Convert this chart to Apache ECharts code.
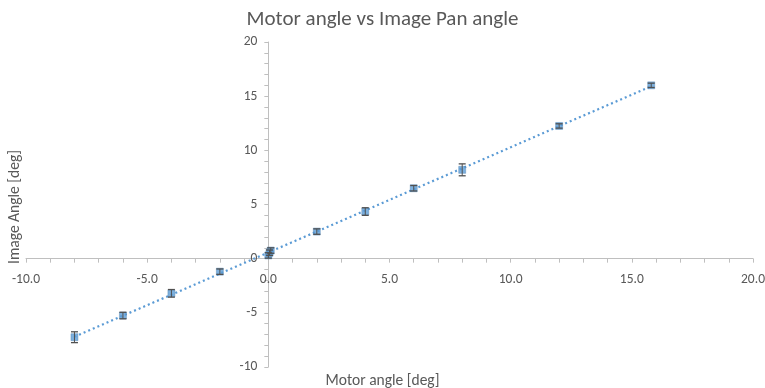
<!DOCTYPE html>
<html><head><meta charset="utf-8">
<script src="https://cdn.jsdelivr.net/npm/echarts@6/dist/echarts.min.js"></script>
<style>html,body{margin:0;padding:0;background:#fff}#c{width:765px;height:388px}</style>
</head><body><div id="c"></div>
<script>
const motorAngle = [-8, -6, -4, -2, 0, 0.05, 0.1, 2, 4, 6, 8, 12, 15.8];
const imageAngle = [-7.25, -5.25, -3.2, -1.2, 0.3, 0.55, 0.75, 2.5, 4.35, 6.5, 8.2, 12.25, 16.0];
const errorSize = [0.5, 0.3, 0.35, 0.25, 0.25, 0.25, 0.25, 0.25, 0.35, 0.25, 0.55, 0.2, 0.2];
const xTicks = [-10, -5, 0, 5, 10, 15, 20];
const yTicks = [-10, -5, 0, 5, 10, 15, 20];

const pts = motorAngle.map((x, i) => [x, imageAngle[i]]);
const errs = motorAngle.map((x, i) => [x, imageAngle[i] - errorSize[i], imageAngle[i] + errorSize[i]]);
// least squares trendline
const n = pts.length;
let sx = 0, sy = 0, sxx = 0, sxy = 0;
pts.forEach(([x, y]) => { sx += x; sy += y; sxx += x * x; sxy += x * y; });
const slope = (n * sxy - sx * sy) / (n * sxx - sx * sx);
const icpt = (sy - slope * sx) / n;
const xmin = Math.min(...motorAngle), xmax = Math.max(...motorAngle);
const trend = [[xmin, slope * xmin + icpt], [xmax, slope * xmax + icpt]];

const W = 765, H = 388;
const G = {left: 26, right: 12, top: 42, bottom: 21};
const gw = W - G.left - G.right, gh = H - G.top - G.bottom;
const xMin = xTicks[0], xMax = xTicks[xTicks.length - 1];
const yMin = yTicks[0], yMax = yTicks[yTicks.length - 1];
// place axes where the other axis is zero
const xOffset = -gh * (0 - yMin) / (yMax - yMin);
const yOffset = -gw * (0 - xMin) / (xMax - xMin);

const font = 'Carlito, Lato, "Open Sans", sans-serif';
const axisColor = '#BFBFBF';
const textColor = '#595959';
const chart = echarts.init(document.getElementById('c'), null, {renderer: 'canvas'});
chart.setOption({
  animation: false,
  textStyle: {fontFamily: font},
  title: {text: 'Motor angle vs Image Pan angle', left: 'center', top: 4,
    textStyle: {fontFamily: font, fontSize: 21, fontWeight: 'normal', color: textColor}},
  grid: Object.assign({containLabel: false, outerBoundsMode: 'none'}, G),
  xAxis: {type: 'value', min: xMin, max: xMax, interval: 5, position: 'bottom', offset: xOffset,
    axisLine: {onZero: false, lineStyle: {color: axisColor, width: 1}},
    axisTick: {show: true, inside: false, length: 4, lineStyle: {color: axisColor}},
    minorTick: {show: true, splitNumber: 5, length: 4, lineStyle: {color: axisColor}},
    splitLine: {show: false},
    axisLabel: {color: textColor, fontSize: 13.5, fontFamily: font, margin: 14, hideOverlap: false,
      formatter: v => v.toFixed(1)}},
  yAxis: {type: 'value', min: yMin, max: yMax, interval: 5, position: 'left', offset: yOffset,
    axisLine: {onZero: false, lineStyle: {color: axisColor, width: 1}},
    axisTick: {show: true, length: 4, lineStyle: {color: axisColor}},
    minorTick: {show: true, splitNumber: 5, length: 4, lineStyle: {color: axisColor}},
    splitLine: {show: false},
    axisLabel: {color: textColor, fontSize: 13.5, fontFamily: font, margin: 11, hideOverlap: false}},
  graphic: [
    {type: 'text', left: 'center', top: 373, style: {text: 'Motor angle [deg]', font: '15.5px ' + font, fill: textColor}},
    {type: 'text', x: 7, y: 264, rotation: Math.PI / 2, style: {text: 'Image Angle [deg]', font: '15.5px ' + font, fill: textColor}}
  ],
  series: [
    {type: 'line', data: trend, symbol: 'none', z: 2,
      lineStyle: {color: '#5B9BD5', width: 2.2, type: [2, 3]}},
    {type: 'scatter', data: pts, symbol: 'rect', symbolSize: 7, z: 3,
      itemStyle: {color: '#5B9BD5', borderColor: '#4A7FB0', borderWidth: 0.5}},
    {type: 'custom', z: 4, data: errs,
      renderItem: (params, api) => {
        const x = api.value(0);
        const lo = api.coord([x, api.value(1)]);
        const hi = api.coord([x, api.value(2)]);
        const w = 3.5;
        const st = {stroke: '#505050', lineWidth: 1.3};
        return {type: 'group', children: [
          {type: 'line', shape: {x1: lo[0], y1: lo[1], x2: hi[0], y2: hi[1]}, style: {stroke: '#505050', lineWidth: 1}},
          {type: 'line', shape: {x1: lo[0] - w, y1: lo[1], x2: lo[0] + w, y2: lo[1]}, style: st},
          {type: 'line', shape: {x1: hi[0] - w, y1: hi[1], x2: hi[0] + w, y2: hi[1]}, style: st}
        ]};
      }}
  ]
});
</script></body></html>
